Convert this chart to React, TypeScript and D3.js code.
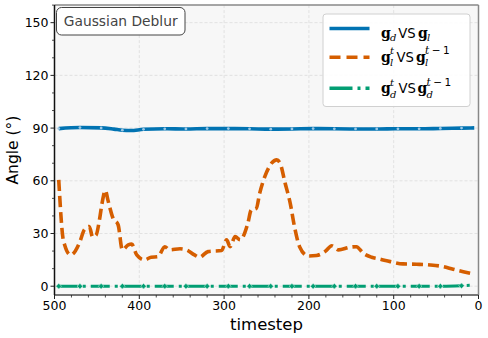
import React from "react";
import * as d3 from "d3";

const W = 488, H = 338;

const blueT = [495, 470, 445, 430, 420, 410, 395, 370, 345, 320, 295, 270, 245, 220, 195, 170, 145, 120, 95, 70, 45, 20, 5];
const blueV = [89.7, 90.3, 90.1, 89.4, 88.8, 88.6, 89.3, 89.6, 89.5, 89.7, 89.7, 89.6, 89.4, 89.5, 89.7, 89.6, 89.5, 89.5, 89.6, 89.6, 89.8, 90.0, 90.1];

const orangeT = [495, 490, 488, 481, 470, 465, 459, 455, 451, 447, 444, 440, 437, 431, 425, 420, 413, 409, 403, 394, 386, 378, 370, 364, 352, 344, 335, 329, 319, 303, 297, 293, 287, 281, 272, 268, 262, 258, 252, 244, 238, 234, 228, 222, 217, 211, 201, 191, 181, 173, 165, 152, 144, 136, 126, 116, 104, 89, 73, 57, 42, 30, 18, 6];
const orangeV = [60.5, 27.3, 23.5, 17.8, 25.4, 32, 34, 28, 29, 37.7, 47, 54.5, 49, 38.7, 35, 20.7, 23.5, 24, 17.8, 15, 16.5, 16.8, 22.5, 20.7, 21.3, 20.6, 17.8, 16.5, 19.7, 20.3, 26.4, 22.5, 28.2, 26.4, 35.8, 43.4, 44.4, 53, 62.4, 70, 71.9, 70, 58.6, 47.2, 33.9, 22.5, 17.2, 17.5, 19.7, 23, 20.7, 22.2, 22.5, 18.8, 16.5, 15.4, 14, 12.7, 12.5, 12.1, 11.2, 9.7, 8.3, 7];

const greenT = [495, 470, 445, 420, 395, 370, 345, 320, 295, 270, 245, 220, 195, 170, 145, 120, 95, 70, 45, 20, 10, 5];
const greenV = [0, 0, 0, 0, 0, 0, 0, 0, 0, 0, 0, 0, 0, 0, 0, 0, 0, 0, 0, 0.3, 0.5, 0.6];

const xTicks = [500, 400, 300, 200, 100, 0];
const yTicks = [0, 30, 60, 90, 120, 150];

const BLUE = "#0173b2", ORANGE = "#d55e00", GREEN = "#029e73";

export default function App() {
  const L = 54.5, R = 478.5, T = 5.1, B = 295;
  const x = d3.scaleLinear().domain([500, 0]).range([L, R]);
  const y = d3.scaleLinear().domain([-5, 160]).range([B, T]);
  const line = d3.line<[number, number]>().x(d => x(d[0])).y(d => y(d[1])).curve(d3.curveMonotoneX);
  const zip = (a: number[], b: number[]) => a.map((t, i) => [t, b[i]] as [number, number]);
  const xMinor = d3.range(0, 501, 20).filter(v => v % 100 !== 0);
  const yMinor = d3.range(0, 161, 10).filter(v => v % 30 !== 0);
  const font = "DejaVu Sans";
  const serif = "DejaVu Serif";

  const legendRows = [
    { y: 28.5, color: BLUE, dash: "none", base: 37.7 },
    { y: 57.3, color: ORANGE, dash: "11,6", base: 62 },
    { y: 88.3, color: GREEN, dash: "23,5,3,5", base: 93.3 },
  ];
  const SUP = -7.8, SUBN = 4.2, SS = 10;

  const g = (xx: number, yy: number) => (
    <text x={xx} y={yy} fontFamily={serif} fontWeight="bold" fontSize={14}>g</text>
  );
  const tm1 = (xx: number, yy: number) => (
    <text x={xx} y={yy} fontFamily={serif} fontSize={10.5}>
      <tspan fontStyle="italic">t</tspan>
      <tspan dx={2.5} fontFamily={font}>−</tspan>
      <tspan dx={2.5} fontFamily={font}>1</tspan>
    </text>
  );

  return (
    <svg width={W} height={H} style={{ position: "absolute", left: 0, top: 0 }} xmlns="http://www.w3.org/2000/svg">
      <rect x={0} y={0} width={W} height={H} fill="#fff" />
      <rect x={L} y={T} width={R - L} height={B - T} fill="#f7f7f7" />
      {/* grid */}
      {xTicks.filter(t => t !== 500 && t !== 0).map(t => (
        <line key={"gx" + t} x1={x(t)} x2={x(t)} y1={T} y2={B} stroke="#dcdcdc" strokeWidth={0.8} strokeDasharray="3,2" />
      ))}
      {yTicks.map(t => (
        <line key={"gy" + t} x1={L} x2={R} y1={y(t)} y2={y(t)} stroke="#dcdcdc" strokeWidth={0.8} strokeDasharray="3,2" />
      ))}
      {/* series */}
      <path d={line(zip(blueT, blueV)) || ""} fill="none" stroke={BLUE} strokeWidth={3.6} />
      {blueT.filter(t => (495 - t) % 25 === 0).map((t, i) => (
        <circle key={"bm" + i} cx={x(t)} cy={y(blueV[blueT.indexOf(t)])} r={1.4} fill="#9cc7e4" />
      ))}
      <path d={line(zip(orangeT, orangeV)) || ""} fill="none" stroke={ORANGE} strokeWidth={3.6} strokeDasharray="11,5" />
      <path d={line(zip(greenT, greenV)) || ""} fill="none" stroke={GREEN} strokeWidth={3} strokeDasharray="19,5,3,5" />
      {greenT.filter(t => (495 - t) % 25 === 0).map((t, i) => {
        const cx = x(t), cy = y(greenV[greenT.indexOf(t)]);
        return <path key={"gm" + i} d={`M${cx},${cy - 2.8}L${cx + 2.8},${cy}L${cx},${cy + 2.8}L${cx - 2.8},${cy}Z`} fill={GREEN} stroke="#bfe6d8" strokeWidth={0.6} />;
      })}
      {/* spines */}
      <line x1={L} x2={R} y1={T} y2={T} stroke="#888" strokeWidth={1.5} />
      <line x1={R} x2={R} y1={T} y2={B} stroke="#888" strokeWidth={1.5} />
      <line x1={L} x2={R} y1={B} y2={B} stroke="#777" strokeWidth={1.8} />
      <line x1={L} x2={L} y1={T} y2={B} stroke="#111" strokeWidth={1.5} />
      {/* x ticks */}
      {xTicks.map(t => (
        <g key={"xt" + t}>
          <line x1={x(t)} x2={x(t)} y1={B} y2={B + 4} stroke="#222" strokeWidth={1} />
          <text x={x(t)} y={309.5} textAnchor="middle" fontFamily={font} fontSize={12.5} fill="#000">{t}</text>
        </g>
      ))}
      {xMinor.map(t => (
        <line key={"xm" + t} x1={x(t)} x2={x(t)} y1={B} y2={B + 2.5} stroke="#222" strokeWidth={0.8} />
      ))}
      {/* y ticks */}
      {yTicks.map(t => (
        <g key={"yt" + t}>
          <line x1={L - 4} x2={L} y1={y(t)} y2={y(t)} stroke="#222" strokeWidth={1} />
          <text x={48.5} y={y(t) + 4.5} textAnchor="end" fontFamily={font} fontSize={12.5} fill="#000">{t}</text>
        </g>
      ))}
      {yMinor.map(t => (
        <line key={"ym" + t} x1={L - 2.5} x2={L} y1={y(t)} y2={y(t)} stroke="#222" strokeWidth={0.8} />
      ))}
      {/* axis labels */}
      <text x={(L + R) / 2} y={330} textAnchor="middle" fontFamily={font} fontSize={16.5} fill="#000">timestep</text>
      <text transform={`translate(17.5,${(T + B) / 2}) rotate(-90)`} textAnchor="middle" fontFamily={font} fontSize={15.5} fill="#000">Angle (°)</text>
      {/* title box */}
      <rect x={56.5} y={7.5} width={128.5} height={27.5} rx={5} ry={5} fill="#fff" stroke="#444" strokeWidth={1} />
      <text x={120.7} y={26} textAnchor="middle" fontFamily={font} fontSize={13.8} fill="#444">Gaussian Deblur</text>
      {/* legend */}
      <rect x={323} y={14} width={147} height={92.5} rx={3} ry={3} fill="#fff" fillOpacity={0.9} stroke="#d0d0d0" strokeWidth={1} />
      {legendRows.map((r, i) => (
        <line key={"ll" + i} x1={329.5} x2={369.5} y1={r.y} y2={r.y} stroke={r.color} strokeWidth={3.6} strokeDasharray={r.dash} />
      ))}
      {/* row 1 */}
      {g(381, legendRows[0].base)}
      <text x={390} y={legendRows[0].base + 2.8} fontFamily={serif} fontStyle="italic" fontSize={SS}>d</text>
      <text x={398.3} y={legendRows[0].base} fontFamily={font} fontSize={13.2}>VS</text>
      {g(418, legendRows[0].base)}
      <text x={427} y={legendRows[0].base + 2.8} fontFamily={serif} fontStyle="italic" fontSize={SS}>l</text>
      {/* row 2 */}
      {g(381, legendRows[1].base)}
      <text x={390} y={legendRows[1].base + SUP} fontFamily={serif} fontStyle="italic" fontSize={SS}>t</text>
      <text x={390} y={legendRows[1].base + SUBN} fontFamily={serif} fontStyle="italic" fontSize={SS}>l</text>
      <text x={396.5} y={legendRows[1].base} fontFamily={font} fontSize={13.2}>VS</text>
      {g(416, legendRows[1].base)}
      {tm1(425, legendRows[1].base + SUP)}
      <text x={425} y={legendRows[1].base + SUBN} fontFamily={serif} fontStyle="italic" fontSize={SS}>l</text>
      {/* row 3 */}
      {g(381, legendRows[2].base)}
      <text x={390} y={legendRows[2].base + SUP} fontFamily={serif} fontStyle="italic" fontSize={SS}>t</text>
      <text x={390} y={legendRows[2].base + SUBN} fontFamily={serif} fontStyle="italic" fontSize={SS}>d</text>
      <text x={398.5} y={legendRows[2].base} fontFamily={font} fontSize={13.2}>VS</text>
      {g(417.5, legendRows[2].base)}
      {tm1(426.5, legendRows[2].base + SUP)}
      <text x={426.5} y={legendRows[2].base + SUBN} fontFamily={serif} fontStyle="italic" fontSize={SS}>d</text>
    </svg>
  );
}
